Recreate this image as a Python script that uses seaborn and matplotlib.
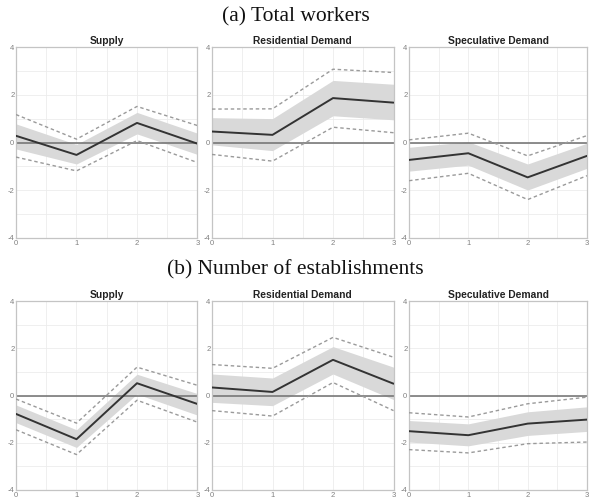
import numpy as np
import pandas as pd
import matplotlib
matplotlib.use("Agg")
import matplotlib.pyplot as plt
from matplotlib.ticker import MultipleLocator
import seaborn as sns

horizon = [0, 1, 2, 3]
shocks = ["Supply", "Residential Demand", "Speculative Demand"]

# (a) Total workers
tw_supply_mean = [0.28, -0.52, 0.82, -0.05]
tw_supply_band_lo = [-0.27, -0.90, 0.36, -0.50]
tw_supply_band_hi = [0.78, -0.08, 1.26, 0.39]
tw_supply_ci_lo = [-0.61, -1.19, 0.08, -0.84]
tw_supply_ci_hi = [1.17, 0.14, 1.51, 0.71]

tw_resid_mean = [0.46, 0.32, 1.86, 1.67]
tw_resid_band_lo = [-0.10, -0.34, 1.12, 0.95]
tw_resid_band_hi = [1.04, 1.00, 2.60, 2.44]
tw_resid_ci_lo = [-0.50, -0.78, 0.64, 0.41]
tw_resid_ci_hi = [1.40, 1.41, 3.07, 2.93]

tw_spec_mean = [-0.73, -0.45, -1.46, -0.56]
tw_spec_band_lo = [-1.20, -0.95, -1.99, -1.08]
tw_spec_band_hi = [-0.20, 0.03, -0.90, -0.03]
tw_spec_ci_lo = [-1.60, -1.29, -2.39, -1.39]
tw_spec_ci_hi = [0.11, 0.39, -0.56, 0.29]

# (b) Number of establishments
ne_supply_mean = [-0.78, -1.85, 0.52, -0.36]
ne_supply_band_lo = [-1.15, -2.20, 0.06, -0.83]
ne_supply_band_hi = [-0.40, -1.45, 0.90, 0.08]
ne_supply_ci_lo = [-1.45, -2.50, -0.20, -1.13]
ne_supply_ci_hi = [-0.15, -1.17, 1.20, 0.43]

ne_resid_mean = [0.34, 0.15, 1.51, 0.50]
ne_resid_band_lo = [-0.29, -0.43, 0.91, -0.17]
ne_resid_band_hi = [0.91, 0.74, 2.07, 1.20]
ne_resid_ci_lo = [-0.64, -0.87, 0.55, -0.64]
ne_resid_ci_hi = [1.31, 1.15, 2.46, 1.62]

ne_spec_mean = [-1.51, -1.68, -1.19, -1.02]
ne_spec_band_lo = [-1.97, -2.13, -1.69, -1.52]
ne_spec_band_hi = [-1.06, -1.20, -0.69, -0.48]
ne_spec_ci_lo = [-2.29, -2.43, -2.04, -1.97]
ne_spec_ci_hi = [-0.73, -0.91, -0.35, -0.07]

sections = [
    ("(a) Total workers", [
        (tw_supply_mean, tw_supply_band_lo, tw_supply_band_hi, tw_supply_ci_lo, tw_supply_ci_hi),
        (tw_resid_mean, tw_resid_band_lo, tw_resid_band_hi, tw_resid_ci_lo, tw_resid_ci_hi),
        (tw_spec_mean, tw_spec_band_lo, tw_spec_band_hi, tw_spec_ci_lo, tw_spec_ci_hi),
    ]),
    ("(b) Number of establishments", [
        (ne_supply_mean, ne_supply_band_lo, ne_supply_band_hi, ne_supply_ci_lo, ne_supply_ci_hi),
        (ne_resid_mean, ne_resid_band_lo, ne_resid_band_hi, ne_resid_ci_lo, ne_resid_ci_hi),
        (ne_spec_mean, ne_spec_band_lo, ne_spec_band_hi, ne_spec_ci_lo, ne_spec_ci_hi),
    ]),
]

sns.set_theme(style="white")
plt.rcParams["font.family"] = ["Liberation Sans", "DejaVu Sans"]
plt.rcParams["axes.unicode_minus"] = False

W, H = 591, 499
fig = plt.figure(figsize=(W / 100, H / 100), dpi=100)

col_left = [16, 212, 409]
col_width = [181.5, 181.5, 178]
row_top = [47, 301]
row_height = [191, 189]
section_title_y = [17, 270]

for r, (section_title, panels) in enumerate(sections):
    fig.text(0.5, 1 - section_title_y[r] / H, section_title, ha="center", va="center",
             fontsize=15.5, family="Liberation Serif", color="#111111")
    for c, (mean, blo, bhi, clo, chi) in enumerate(panels):
        left = col_left[c] / W
        bottom = 1 - (row_top[r] + row_height[r]) / H
        ax = fig.add_axes([left, bottom, col_width[c] / W, row_height[r] / H])
        df = pd.DataFrame({"h": horizon, "mean": mean, "clo": clo, "chi": chi})

        ax.fill_between(df["h"], blo, bhi, color="#d9d9d9", linewidth=0, zorder=1)
        ax.axhline(0, color="#6e6e6e", linewidth=1.1, zorder=2)
        sns.lineplot(data=df, x="h", y="clo", ax=ax, color="#9a9a9a", linewidth=1.0,
                     linestyle=(0, (2.5, 2)), zorder=3)
        sns.lineplot(data=df, x="h", y="chi", ax=ax, color="#9a9a9a", linewidth=1.0,
                     linestyle=(0, (2.5, 2)), zorder=3)
        sns.lineplot(data=df, x="h", y="mean", ax=ax, color="#333333", linewidth=1.4, zorder=4)

        ax.set_xlim(0, 3)
        ax.set_ylim(-4, 4)
        ax.xaxis.set_major_locator(MultipleLocator(1))
        ax.xaxis.set_minor_locator(MultipleLocator(0.5))
        ax.yaxis.set_major_locator(MultipleLocator(2))
        ax.yaxis.set_minor_locator(MultipleLocator(1))
        ax.grid(True, which="both", color="#ececec", linewidth=0.6)
        ax.set_axisbelow(True)
        ax.set_xlabel("")
        ax.set_ylabel("")
        ax.set_title(shocks[c], fontsize=7.4, fontweight="bold", color="#222222", pad=2)
        ax.tick_params(axis="both", which="both", length=0, labelsize=5.5, colors="#808080", pad=1.2)
        for s in ax.spines.values():
            s.set_color("#c4c4c4")
            s.set_linewidth(0.9)

fig.savefig("out.png", dpi=100)
